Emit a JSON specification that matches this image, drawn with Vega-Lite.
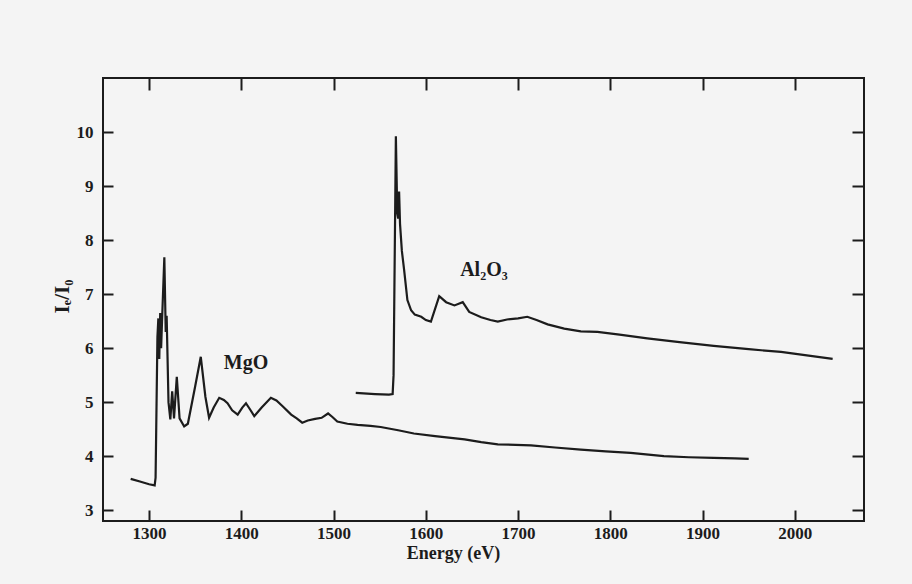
{
  "$schema": "https://vega.github.io/schema/vega-lite/v6.json",
  "width": 761,
  "height": 443,
  "autosize": {"type": "none"},
  "padding": {"left": 103, "top": 78, "right": 48, "bottom": 63},
  "background": "#f4f4f4",
  "datasets": {
    "curves": [
      {"series": "MgO", "energy": 1280, "ratio": 3.58},
      {"series": "MgO", "energy": 1290, "ratio": 3.53},
      {"series": "MgO", "energy": 1300, "ratio": 3.48},
      {"series": "MgO", "energy": 1306, "ratio": 3.46},
      {"series": "MgO", "energy": 1307, "ratio": 3.6},
      {"series": "MgO", "energy": 1309, "ratio": 6.2},
      {"series": "MgO", "energy": 1310, "ratio": 6.55},
      {"series": "MgO", "energy": 1311, "ratio": 5.8},
      {"series": "MgO", "energy": 1312, "ratio": 6.65},
      {"series": "MgO", "energy": 1313, "ratio": 6.0},
      {"series": "MgO", "energy": 1314, "ratio": 6.5},
      {"series": "MgO", "energy": 1316.5, "ratio": 7.68},
      {"series": "MgO", "energy": 1318, "ratio": 6.3},
      {"series": "MgO", "energy": 1319, "ratio": 6.6},
      {"series": "MgO", "energy": 1321, "ratio": 5.0},
      {"series": "MgO", "energy": 1323, "ratio": 4.68},
      {"series": "MgO", "energy": 1325, "ratio": 5.2},
      {"series": "MgO", "energy": 1327, "ratio": 4.7},
      {"series": "MgO", "energy": 1330, "ratio": 5.47},
      {"series": "MgO", "energy": 1333, "ratio": 4.7},
      {"series": "MgO", "energy": 1338, "ratio": 4.55},
      {"series": "MgO", "energy": 1342, "ratio": 4.6},
      {"series": "MgO", "energy": 1350, "ratio": 5.3},
      {"series": "MgO", "energy": 1356, "ratio": 5.84},
      {"series": "MgO", "energy": 1361, "ratio": 5.1},
      {"series": "MgO", "energy": 1365, "ratio": 4.71},
      {"series": "MgO", "energy": 1370, "ratio": 4.9},
      {"series": "MgO", "energy": 1376, "ratio": 5.08},
      {"series": "MgO", "energy": 1381, "ratio": 5.04},
      {"series": "MgO", "energy": 1385, "ratio": 4.98},
      {"series": "MgO", "energy": 1390, "ratio": 4.85},
      {"series": "MgO", "energy": 1396, "ratio": 4.77},
      {"series": "MgO", "energy": 1401, "ratio": 4.9},
      {"series": "MgO", "energy": 1405, "ratio": 4.98},
      {"series": "MgO", "energy": 1410, "ratio": 4.85},
      {"series": "MgO", "energy": 1414, "ratio": 4.74},
      {"series": "MgO", "energy": 1422, "ratio": 4.9},
      {"series": "MgO", "energy": 1432, "ratio": 5.08},
      {"series": "MgO", "energy": 1438, "ratio": 5.03},
      {"series": "MgO", "energy": 1445, "ratio": 4.92},
      {"series": "MgO", "energy": 1454, "ratio": 4.77},
      {"series": "MgO", "energy": 1460, "ratio": 4.7},
      {"series": "MgO", "energy": 1466, "ratio": 4.62},
      {"series": "MgO", "energy": 1472, "ratio": 4.66},
      {"series": "MgO", "energy": 1480, "ratio": 4.69},
      {"series": "MgO", "energy": 1487, "ratio": 4.71},
      {"series": "MgO", "energy": 1494, "ratio": 4.79},
      {"series": "MgO", "energy": 1499, "ratio": 4.72},
      {"series": "MgO", "energy": 1504, "ratio": 4.64},
      {"series": "MgO", "energy": 1515, "ratio": 4.6},
      {"series": "MgO", "energy": 1526, "ratio": 4.58},
      {"series": "MgO", "energy": 1540, "ratio": 4.56},
      {"series": "MgO", "energy": 1551, "ratio": 4.54},
      {"series": "MgO", "energy": 1570, "ratio": 4.48},
      {"series": "MgO", "energy": 1587, "ratio": 4.42},
      {"series": "MgO", "energy": 1610, "ratio": 4.37},
      {"series": "MgO", "energy": 1642, "ratio": 4.31},
      {"series": "MgO", "energy": 1660, "ratio": 4.26},
      {"series": "MgO", "energy": 1678, "ratio": 4.22},
      {"series": "MgO", "energy": 1714, "ratio": 4.2},
      {"series": "MgO", "energy": 1740, "ratio": 4.16},
      {"series": "MgO", "energy": 1768, "ratio": 4.12},
      {"series": "MgO", "energy": 1795, "ratio": 4.09},
      {"series": "MgO", "energy": 1822, "ratio": 4.06},
      {"series": "MgO", "energy": 1858, "ratio": 4.0},
      {"series": "MgO", "energy": 1885, "ratio": 3.98},
      {"series": "MgO", "energy": 1912, "ratio": 3.97},
      {"series": "MgO", "energy": 1935, "ratio": 3.96},
      {"series": "MgO", "energy": 1950, "ratio": 3.95},
      {"series": "Al2O3", "energy": 1524, "ratio": 5.17},
      {"series": "Al2O3", "energy": 1545, "ratio": 5.15},
      {"series": "Al2O3", "energy": 1560, "ratio": 5.14},
      {"series": "Al2O3", "energy": 1564, "ratio": 5.15},
      {"series": "Al2O3", "energy": 1565, "ratio": 5.5},
      {"series": "Al2O3", "energy": 1567.5, "ratio": 9.92},
      {"series": "Al2O3", "energy": 1569, "ratio": 8.5},
      {"series": "Al2O3", "energy": 1570, "ratio": 8.4},
      {"series": "Al2O3", "energy": 1571, "ratio": 8.9},
      {"series": "Al2O3", "energy": 1572, "ratio": 8.3},
      {"series": "Al2O3", "energy": 1574, "ratio": 7.8},
      {"series": "Al2O3", "energy": 1576.5, "ratio": 7.44},
      {"series": "Al2O3", "energy": 1580, "ratio": 6.89},
      {"series": "Al2O3", "energy": 1584, "ratio": 6.7},
      {"series": "Al2O3", "energy": 1588, "ratio": 6.62},
      {"series": "Al2O3", "energy": 1595, "ratio": 6.58},
      {"series": "Al2O3", "energy": 1600, "ratio": 6.52},
      {"series": "Al2O3", "energy": 1605.5, "ratio": 6.49},
      {"series": "Al2O3", "energy": 1614.5, "ratio": 6.96},
      {"series": "Al2O3", "energy": 1622, "ratio": 6.85},
      {"series": "Al2O3", "energy": 1631, "ratio": 6.79},
      {"series": "Al2O3", "energy": 1640, "ratio": 6.85},
      {"series": "Al2O3", "energy": 1647, "ratio": 6.67},
      {"series": "Al2O3", "energy": 1660, "ratio": 6.57},
      {"series": "Al2O3", "energy": 1670, "ratio": 6.52},
      {"series": "Al2O3", "energy": 1678, "ratio": 6.49},
      {"series": "Al2O3", "energy": 1688, "ratio": 6.53},
      {"series": "Al2O3", "energy": 1700, "ratio": 6.55},
      {"series": "Al2O3", "energy": 1710, "ratio": 6.58},
      {"series": "Al2O3", "energy": 1720, "ratio": 6.52},
      {"series": "Al2O3", "energy": 1732, "ratio": 6.44},
      {"series": "Al2O3", "energy": 1750, "ratio": 6.36},
      {"series": "Al2O3", "energy": 1768, "ratio": 6.31},
      {"series": "Al2O3", "energy": 1786, "ratio": 6.3},
      {"series": "Al2O3", "energy": 1810, "ratio": 6.25},
      {"series": "Al2O3", "energy": 1840, "ratio": 6.18},
      {"series": "Al2O3", "energy": 1875, "ratio": 6.11},
      {"series": "Al2O3", "energy": 1912, "ratio": 6.04},
      {"series": "Al2O3", "energy": 1950, "ratio": 5.98},
      {"series": "Al2O3", "energy": 1985, "ratio": 5.93},
      {"series": "Al2O3", "energy": 2015, "ratio": 5.86},
      {"series": "Al2O3", "energy": 2041, "ratio": 5.8}
    ],
    "labels": [
      {"label": "MgO", "energy": 1405, "ratio": 5.73},
      {"label": "Al₂O₃", "energy": 1663, "ratio": 7.45}
    ]
  },
  "layer": [
    {
      "data": {"name": "curves"},
      "mark": {"type": "line", "color": "#1c1c1c", "strokeWidth": 2.2, "strokeJoin": "miter"},
      "encoding": {
        "x": {
          "field": "energy", "type": "quantitative",
          "scale": {"domain": [1250, 2075], "nice": false, "zero": false},
          "axis": {
            "orient": "bottom", "values": [1300, 1400, 1500, 1600, 1700, 1800, 1900, 2000], "format": "d",
            "title": "Energy (eV)", "titleX": 350, "titleY": 32, "titleBaseline": "middle",
            "titleFontSize": 18, "titleFontWeight": "bold",
            "tickSize": -11, "labelPadding": 15
          }
        },
        "y": {
          "field": "ratio", "type": "quantitative",
          "scale": {"domain": [2.8, 11], "nice": false, "zero": false},
          "axis": {
            "orient": "left", "values": [3, 4, 5, 6, 7, 8, 9, 10],
            "title": "Iₑ/I₀", "titleX": -41, "titleY": 218, "titleAngle": -90,
            "titleBaseline": "middle", "titleAlign": "center",
            "titleFontSize": 21, "titleFontWeight": "bold",
            "tickSize": -10, "labelPadding": 20
          }
        },
        "detail": {"field": "series"}
      }
    },
    {
      "data": {"name": "labels"},
      "mark": {"type": "text", "font": "Liberation Serif", "fontWeight": "bold", "fontSize": 20, "color": "#1c1c1c"},
      "encoding": {
        "x": {
          "field": "energy", "type": "quantitative",
          "axis": {"orient": "top", "values": [1300, 1400, 1500, 1600, 1700, 1800, 1900, 2000], "labels": false, "title": null, "tickSize": -12}
        },
        "y": {
          "field": "ratio", "type": "quantitative",
          "axis": {"orient": "right", "values": [3, 4, 5, 6, 7, 8, 9, 10], "labels": false, "title": null, "tickSize": -12}
        },
        "text": {"field": "label"}
      }
    }
  ],
  "resolve": {"axis": {"x": "independent", "y": "independent"}},
  "config": {
    "view": {"stroke": "#1c1c1c", "strokeWidth": 2},
    "axis": {
      "domain": false, "grid": false,
      "tickColor": "#1c1c1c", "tickWidth": 2,
      "labelFont": "Liberation Serif", "labelFontSize": 17, "labelFontWeight": "bold", "labelColor": "#1c1c1c",
      "titleFont": "Liberation Serif", "titleColor": "#1c1c1c"
    }
  }
}
